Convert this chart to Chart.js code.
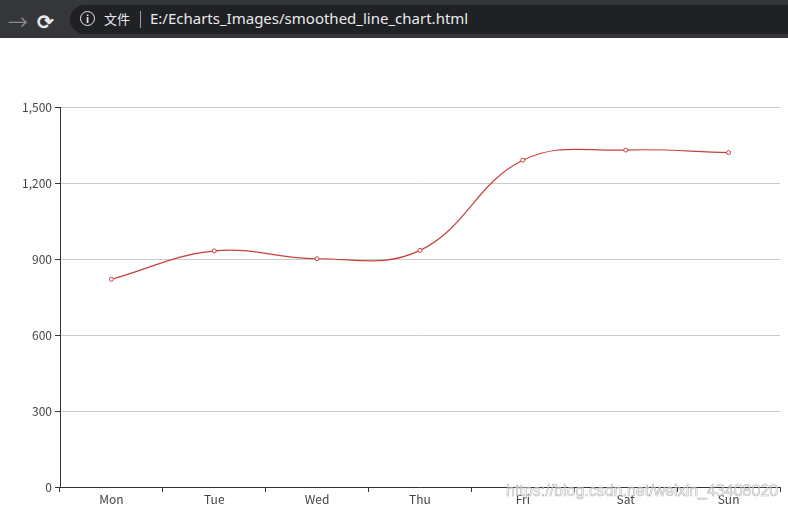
<!DOCTYPE html>
<html>
<head>
<meta charset="utf-8">
<script src="https://cdn.jsdelivr.net/npm/chart.js@4/dist/chart.umd.min.js"></script>
<style>
    html, body { margin: 0; padding: 0; background: #fff; width: 788px; height: 511px; overflow: hidden; }
    #bar { position: absolute; left: 0; top: 0; width: 788px; height: 38px; background: #35363a; font-family: "Noto Sans CJK SC", "Noto Sans", sans-serif; }
    #back { position: absolute; left: 8px; top: 7px; color: #8a8b8d; font-size: 20px; }
    #reload { position: absolute; left: 37px; top: 6px; color: #e8eaed; font-size: 20px; font-weight: bold; }
    #pill { position: absolute; left: 70px; top: 5px; width: 740px; height: 29px; border-radius: 15px; background: #202124; }
    #info { position: absolute; left: 80px; top: 11px; width: 13px; height: 13px; border: 1.5px solid #e8eaed; border-radius: 50%; color: #e8eaed; font-size: 10px; line-height: 13px; text-align: center; font-weight: bold; }
    #file { position: absolute; left: 104px; top: 9px; color: #e8eaed; font-size: 13px; }
    #sep { position: absolute; left: 140px; top: 11px; width: 1px; height: 17px; background: #9aa0a6; }
    #url { position: absolute; left: 150px; top: 8px; color: #e8eaed; font-size: 15px; font-family: "Noto Sans", sans-serif; }
    #wrap { position: absolute; left: 0; top: 38px; width: 788px; height: 473px; }
    #mark { position: absolute; left: 506px; top: 482px; font-family: "Liberation Sans", sans-serif; font-size: 16px; color: rgba(255,255,255,0.6); -webkit-text-stroke: 0.6px rgba(150,150,150,0.7); }
</style>
</head>
<body>
<div id="bar">
    <div id="back">&#8594;</div>
    <div id="reload">&#10227;</div>
    <div id="pill"></div>
    <div id="info">i</div>
    <div id="file">文件</div>
    <div id="sep"></div>
    <div id="url">E:/Echarts_Images/smoothed_line_chart.html</div>
</div>
<div id="wrap"><canvas id="chart" width="788" height="473"></canvas></div>
<div id="mark">https://blog.csdn.net/weixin_43408020</div>
<script>
const days = ['Mon', 'Tue', 'Wed', 'Thu', 'Fri', 'Sat', 'Sun'];
const values = [820, 932, 901, 934, 1290, 1330, 1320];
const yTicks = [0, 300, 600, 900, 1200, 1500];

const red = '#c8403c';

const ctx = document.getElementById('chart').getContext('2d');
const chart = new Chart(ctx, {
    type: 'line',
    data: {
        labels: days,
        datasets: [{
            data: values,
            borderColor: red,
            borderWidth: 1.2,
            tension: 0.4,
            fill: false,
            pointRadius: 2,
            pointBorderWidth: 1,
            pointBackgroundColor: '#fff',
            pointBorderColor: red
        }]
    },
    options: {
        responsive: false,
        animation: false,
        layout: { padding: { top: 69, right: 8, left: 0, bottom: 0 } },
        plugins: { legend: { display: false }, tooltip: { enabled: false } },
        scales: {
            x: {
                offset: true,
                grid: { display: true, offset: true, drawOnChartArea: false, drawTicks: true, tickLength: 5, tickColor: '#333' },
                border: { color: '#333', width: 1 },
                ticks: { color: '#444', font: { family: 'Noto Sans CJK SC', size: 12 }, padding: 0, autoSkip: false, maxRotation: 0 },
                afterFit: scale => { scale.height = 24; }
            },
            y: {
                min: 0,
                max: 1500,
                afterBuildTicks: scale => { scale.ticks = yTicks.map(v => ({ value: v })); },
                grid: { color: '#ccc', tickColor: '#333', tickLength: 5 },
                border: { color: '#333', width: 1 },
                ticks: { color: '#444', font: { family: 'Noto Sans CJK SC', size: 12 }, padding: 3, autoSkip: false },
                afterFit: scale => { scale.width = 60; }
            }
        }
    }
});
</script>
</body>
</html>
